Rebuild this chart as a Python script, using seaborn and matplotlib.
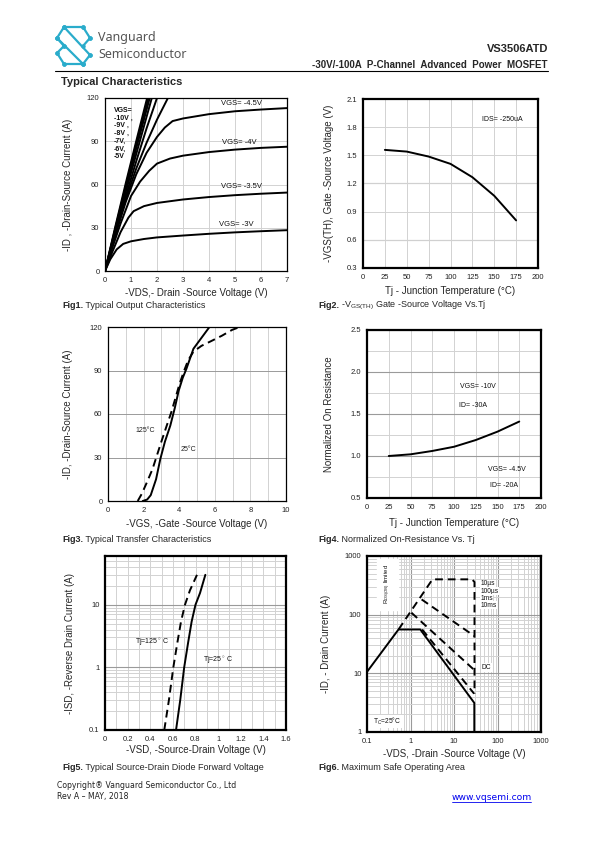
import numpy as np
import pandas as pd
import matplotlib
matplotlib.use('Agg')
import matplotlib.pyplot as plt
from matplotlib.lines import Line2D
from matplotlib.ticker import FixedLocator, NullFormatter, LogLocator
import seaborn as sns

# ---------------- data ----------------
# Fig1 output characteristics (-VDS V, -ID A)
vgs10_vds = [0, 0.4, 0.8, 1.2, 1.62]
vgs10_id = [0, 31, 61, 90, 120]
vgs9_vds = [0, 0.4, 0.8, 1.2, 1.67]
vgs9_id = [0, 30, 59, 88, 120]
vgs8_vds = [0, 0.4, 0.8, 1.2, 1.72]
vgs8_id = [0, 29, 57, 85, 120]
vgs7_vds = [0, 0.4, 0.8, 1.2, 1.8]
vgs7_id = [0, 28, 55, 81, 120]
vgs6_vds = [0, 0.4, 0.8, 1.2, 1.6, 2.0]
vgs6_id = [0, 27, 52, 76, 99, 120]
vgs5_vds = [0, 0.4, 0.8, 1.2, 1.6, 2.0, 2.42]
vgs5_id = [0, 26, 50, 71, 89, 105, 120]
vgs45_vds = [0, 0.4, 0.8, 1.2, 1.6, 2.0, 2.3, 2.6, 3, 4, 5, 6, 7]
vgs45_id = [0, 25, 48, 67, 82, 93, 99.5, 104, 105.8, 108.8, 110.8, 112, 113]
vgs4_vds = [0, 0.3, 0.6, 1.0, 1.35, 1.7, 2.0, 2.5, 3, 4, 5, 6, 7]
vgs4_id = [0, 17, 33, 52, 62, 69.5, 74.5, 78, 80, 82.5, 84.2, 85.4, 86.2]
vgs35_vds = [0, 0.3, 0.6, 0.9, 1.1, 1.5, 2, 3, 4, 5, 6, 7]
vgs35_id = [0, 14, 27, 37, 41.5, 45, 47.2, 49.6, 51.3, 52.6, 53.6, 54.4]
vgs3_vds = [0, 0.2, 0.45, 0.7, 1, 1.5, 2, 3, 4, 5, 6, 7]
vgs3_id = [0, 8, 15, 18.8, 20.6, 22.2, 23.3, 24.6, 25.8, 26.8, 27.6, 28.3]

# Fig2 threshold voltage vs Tj
vth_tj = [25, 50, 75, 100, 125, 150, 175]
vth_v = [1.558, 1.54, 1.487, 1.409, 1.267, 1.069, 0.807]

# Fig3 transfer characteristics (-VGS V, -ID A)
tr25_vgs = [1.95, 2.2, 2.4, 2.7, 2.94, 3.2, 3.5, 3.75, 3.97, 4.2, 4.4, 4.8, 5.28, 5.7]
tr25_id = [0, 1, 4, 15, 29, 41, 52, 64, 76, 85, 91, 105, 113, 120]
tr125_vgs = [1.67, 1.9, 2.19, 2.5, 2.75, 3.0, 3.3, 3.55, 3.78, 4.0, 4.25, 4.5, 4.8, 5.25, 5.75, 6.4, 6.97, 7.4]
tr125_id = [0, 5, 13, 22, 31.5, 41, 52, 61, 70.6, 80, 89, 97, 103, 107, 110, 114, 118, 120]

# Fig4 normalized on-resistance vs Tj
rds_tj = [25, 50, 75, 100, 125, 150, 175]
rds_norm = [1.0, 1.02, 1.06, 1.11, 1.19, 1.29, 1.41]

# Fig5 body diode forward voltage (-VSD V, -ISD A)
sd25_vsd = [0.628, 0.665, 0.70, 0.735, 0.766, 0.80, 0.84, 0.887]
sd25_isd = [0.1, 0.3, 1, 2.5, 5.4, 10, 15.4, 30]
sd125_vsd = [0.524, 0.565, 0.604, 0.64, 0.672, 0.707, 0.751, 0.813]
sd125_isd = [0.1, 0.3, 1, 2.5, 5.4, 10, 17, 30]

# Fig6 safe operating area (-VDS V, -ID A)
dc_vds = [0.1, 0.53, 1.68, 29.3, 29.3]
dc_id = [10.6, 55.9, 55.9, 3.13, 1]
us10_vds = [0.53, 3.2, 26, 29.6, 29.6]
us10_id = [55.9, 400, 400, 360, 4.5]
us100_vds = [1.8, 29.6]
us100_id = [182, 43]
ms1_vds = [1.05, 29.6]
ms1_id = [108, 11.3]
ms10_vds = [1.85, 29.0]
ms10_id = [56, 4.5]

# ---------------- style ----------------
sns.set_style("white")
plt.rcParams['font.family'] = ['Liberation Sans', 'DejaVu Sans']
plt.rcParams['mathtext.fontset'] = 'custom'
plt.rcParams['mathtext.rm'] = 'Liberation Sans'
plt.rcParams['mathtext.it'] = 'Liberation Sans:italic'
plt.rcParams['mathtext.bf'] = 'Liberation Sans:bold'

W, H = 595, 842
fig = plt.figure(figsize=(W / 100, H / 100), dpi=100)
fig.patch.set_facecolor('white')


def rect(x0, y0, x1, y1):
    return [x0 / W, 1 - y1 / H, (x1 - x0) / W, (y1 - y0) / H]


def fx(x):
    return x / W


def fy(y):
    return 1 - y / H


LIGHT = '#d2d2d2'
MID = '#9a9a9a'
TICK_FS = 5.5
LAB_FS = 7
ANN_FS = 5.5


def curve(ax, x, y, dashed=False):
    df = pd.DataFrame({'x': x, 'y': y})
    sns.lineplot(data=df, x='x', y='y', ax=ax, color='black', lw=1.4,
                 sort=False, estimator=None,
                 linestyle=(0, (4, 2.5)) if dashed else '-')


def frame(ax, lw):
    for s in ax.spines.values():
        s.set_visible(True)
        s.set_color('black')
        s.set_linewidth(lw)
    ax.tick_params(length=0, labelsize=TICK_FS, pad=4, colors='#222222')
    ax.set_axisbelow(True)


# ---------------- Fig1 ----------------
ax1 = fig.add_axes(rect(105, 98, 287, 271))
for xs, ys in [(vgs10_vds, vgs10_id), (vgs9_vds, vgs9_id), (vgs8_vds, vgs8_id),
               (vgs7_vds, vgs7_id), (vgs6_vds, vgs6_id), (vgs5_vds, vgs5_id),
               (vgs45_vds, vgs45_id), (vgs4_vds, vgs4_id), (vgs35_vds, vgs35_id),
               (vgs3_vds, vgs3_id)]:
    curve(ax1, xs, ys)
ax1.set_xlim(0, 7)
ax1.set_ylim(0, 120)
ax1.set_xticks(range(0, 8))
ax1.set_yticks([0, 30, 60, 90, 120])
ax1.grid(True, color=LIGHT, lw=0.7)
frame(ax1, 0.9)
ax1.set_xlabel('-VDS,- Drain -Source Voltage (V)', fontsize=LAB_FS, labelpad=3)
ax1.set_ylabel('-ID , -Drain-Source Current (A)', fontsize=LAB_FS, labelpad=10)
ax1.text(0.33, 114, 'VGS=\n-10V ,\n-9V ,\n-8V ,\n-7V,\n-6V,\n-5V', fontsize=ANN_FS - 0.5,
         va='top', ha='left', linespacing=1.15, fontweight='bold', color='#111111')
ax1.text(4.45, 116, 'VGS= -4.5V', fontsize=ANN_FS, va='center', color='#111111')
ax1.text(4.5, 89, 'VGS= -4V', fontsize=ANN_FS, va='center', color='#111111')
ax1.text(4.45, 58.5, 'VGS= -3.5V', fontsize=ANN_FS, va='center', color='#111111')
ax1.text(4.4, 32, 'VGS= -3V', fontsize=ANN_FS, va='center', color='#111111')

# ---------------- Fig2 ----------------
ax2 = fig.add_axes(rect(363, 99, 538, 268))
curve(ax2, vth_tj, vth_v)
ax2.set_xlim(0, 200)
ax2.set_ylim(0.3, 2.1)
ax2.set_xticks(range(0, 201, 25))
ax2.set_yticks([0.3, 0.6, 0.9, 1.2, 1.5, 1.8, 2.1])
ax2.set_yticklabels(['0.3', '0.6', '0.9', '1.2', '1.5', '1.8', '2.1'])
ax2.grid(True, color=LIGHT, lw=0.7)
for v in [0.6, 1.2]:
    ax2.axhline(v, color=MID, lw=0.8, zorder=0.5)
frame(ax2, 1.6)
ax2.set_xlabel('Tj - Junction Temperature (°C)', fontsize=LAB_FS, labelpad=4)
ax2.set_ylabel('-VGS(TH), Gate -Source Voltage (V)', fontsize=LAB_FS, labelpad=9)
ax2.text(136, 1.88, 'IDS= -250uA', fontsize=ANN_FS - 0.5, va='center', color='#111111')

# ---------------- Fig3 ----------------
ax3 = fig.add_axes(rect(108, 327, 286, 501))
curve(ax3, tr25_vgs, tr25_id)
curve(ax3, tr125_vgs, tr125_id, dashed=True)
ax3.set_xlim(0, 10)
ax3.set_ylim(0, 120)
ax3.set_xticks(range(0, 11, 2))
ax3.xaxis.set_minor_locator(FixedLocator(range(1, 10, 2)))
ax3.set_yticks([0, 30, 60, 90, 120])
ax3.grid(True, which='both', axis='x', color=LIGHT, lw=0.7)
ax3.grid(True, axis='y', color=MID, lw=0.7)
frame(ax3, 0.9)
ax3.tick_params(which='minor', length=0)
ax3.set_xlabel('-VGS, -Gate -Source Voltage (V)', fontsize=LAB_FS, labelpad=4)
ax3.set_ylabel('-ID, -Drain-Source Current (A)', fontsize=LAB_FS, labelpad=12)
ax3.text(1.52, 48.5, '125°C', fontsize=ANN_FS - 0.5, va='center', color='#222222')
ax3.text(4.1, 35.2, '25°C', fontsize=ANN_FS - 0.5, va='center', color='#222222')

# ---------------- Fig4 ----------------
ax4 = fig.add_axes(rect(367, 330, 541, 498))
curve(ax4, rds_tj, rds_norm)
ax4.set_xlim(0, 200)
ax4.set_ylim(0.5, 2.5)
ax4.set_xticks(range(0, 201, 25))
ax4.set_yticks([0.5, 1.0, 1.5, 2.0, 2.5])
ax4.set_yticklabels(['0.5', '1.0', '1.5', '2.0', '2.5'])
ax4.yaxis.set_minor_locator(FixedLocator([0.75, 1.25, 1.75, 2.25]))
ax4.grid(True, which='major', axis='x', color=LIGHT, lw=0.7)
ax4.grid(True, which='minor', axis='y', color=LIGHT, lw=0.7)
ax4.grid(True, which='major', axis='y', color=MID, lw=0.8)
frame(ax4, 1.6)
ax4.tick_params(which='minor', length=0)
ax4.set_xlabel('Tj - Junction Temperature (°C)', fontsize=LAB_FS, labelpad=5)
ax4.set_ylabel('Normalized On Resistance', fontsize=LAB_FS, labelpad=12)
ax4.text(107, 1.825, 'VGS= -10V', fontsize=ANN_FS - 0.5, va='center', color='#111111')
ax4.text(106, 1.607, 'ID= -30A', fontsize=ANN_FS - 0.5, va='center', color='#111111')
ax4.text(139, 0.845, 'VGS= -4.5V', fontsize=ANN_FS - 0.5, va='center', color='#111111')
ax4.text(141, 0.643, 'ID= -20A', fontsize=ANN_FS - 0.5, va='center', color='#111111')

# ---------------- Fig5 ----------------
ax5 = fig.add_axes(rect(105, 556, 286, 730))
ax5.set_yscale('log')
curve(ax5, sd25_vsd, sd25_isd)
curve(ax5, sd125_vsd, sd125_isd, dashed=True)
ax5.set_xlim(0, 1.6)
ax5.set_ylim(0.1, 60)
ax5.set_xticks(np.round(np.arange(0, 1.61, 0.2), 1))
ax5.set_xticklabels(['0', '0.2', '0.4', '0.6', '0.8', '1', '1.2', '1.4', '1.6'])
ax5.xaxis.set_minor_locator(FixedLocator(np.round(np.arange(0.1, 1.6, 0.2), 1)))
ax5.set_yticks([0.1, 1, 10])
ax5.set_yticklabels(['0.1', '1', '10'])
ax5.yaxis.set_minor_locator(LogLocator(base=10, subs=np.arange(2, 10)))
ax5.yaxis.set_minor_formatter(NullFormatter())
ax5.grid(True, which='both', axis='x', color=LIGHT, lw=0.7)
ax5.grid(True, which='minor', axis='y', color=LIGHT, lw=0.7)
ax5.grid(True, which='major', axis='y', color=MID, lw=0.8)
frame(ax5, 1.6)
ax5.tick_params(which='minor', length=0)
ax5.set_xlabel('-VSD, -Source-Drain Voltage (V)', fontsize=LAB_FS, labelpad=2)
ax5.set_ylabel('-ISD, -Reverse Drain Current (A)', fontsize=LAB_FS, labelpad=10)
ax5.text(0.265, 2.56, 'Tj=125$^\\circ$ C', fontsize=ANN_FS - 0.5, va='center', color='#111111')
ax5.text(0.87, 1.32, 'Tj=25$^\\circ$ C', fontsize=ANN_FS - 0.5, va='center', color='#111111')

# ---------------- Fig6 ----------------
ax6 = fig.add_axes(rect(367, 556, 541, 732))
ax6.set_xscale('log')
ax6.set_yscale('log')
curve(ax6, dc_vds, dc_id)
curve(ax6, us10_vds, us10_id, dashed=True)
curve(ax6, us100_vds, us100_id, dashed=True)
curve(ax6, ms1_vds, ms1_id, dashed=True)
curve(ax6, ms10_vds, ms10_id, dashed=True)
ax6.set_xlim(0.1, 1000)
ax6.set_ylim(1, 1000)
ax6.set_xticks([0.1, 1, 10, 100, 1000])
ax6.set_xticklabels(['0.1', '1', '10', '100', '1000'])
ax6.set_yticks([1, 10, 100, 1000])
ax6.set_yticklabels(['1', '10', '100', '1000'])
for a in (ax6.xaxis, ax6.yaxis):
    a.set_minor_locator(LogLocator(base=10, subs=np.arange(2, 10)))
    a.set_minor_formatter(NullFormatter())
ax6.grid(True, which='minor', color=LIGHT, lw=0.7)
ax6.grid(True, which='major', color=MID, lw=0.8)
frame(ax6, 1.6)
ax6.tick_params(which='minor', length=0)
ax6.set_xlabel('-VDS, -Drain -Source Voltage (V)', fontsize=LAB_FS, labelpad=3)
ax6.set_ylabel('-ID, - Drain Current (A)', fontsize=LAB_FS, labelpad=10)
ax6.text(0.3, 330, 'R$_{DS(ON)}$ limited', fontsize=4.3, rotation=90, ha='center', va='center',
         color='#111111', backgroundcolor='white')
for lab, yv in [('10µs', 340), ('100µs', 253), ('1ms', 190), ('10ms', 145)]:
    ax6.text(40, yv, lab, fontsize=ANN_FS - 0.7, va='center', color='#111111',
             bbox=dict(facecolor='white', edgecolor='none', pad=0.3))
ax6.text(44, 12.5, 'DC', fontsize=ANN_FS - 0.7, va='center', color='#111111',
         bbox=dict(facecolor='white', edgecolor='none', pad=0.5))
ax6.text(0.14, 1.5, 'T$_C$=25°C', fontsize=ANN_FS - 0.7, va='center', color='#111111',
         bbox=dict(facecolor='white', edgecolor='none', pad=0.5))

# ---------------- captions ----------------
captions = [
    (62, 305, 'Fig1.', ' Typical Output Characteristics'),
    (318, 305, 'Fig2.', ' -V$_{\\mathrm{GS(TH)}}$ Gate -Source Voltage Vs.Tj'),
    (62, 540, 'Fig3.', ' Typical Transfer Characteristics'),
    (318, 540, 'Fig4.', ' Normalized On-Resistance Vs. Tj'),
    (62, 767, 'Fig5.', ' Typical Source-Drain Diode Forward Voltage'),
    (318, 767, 'Fig6.', ' Maximum Safe Operating Area'),
]
for x, y, b, rest in captions:
    t = fig.text(fx(x), fy(y), b, fontsize=6.5, fontweight='bold', va='center', ha='left')
    ax1.annotate(rest, xy=(1, 0.5), xycoords=t, va='center', ha='left', fontsize=6.5,
                 annotation_clip=False)

# ---------------- header ----------------
cyan = '#2aaccb'
logo_segs = [
    [(64, 27), (83, 27)], [(64, 27), (57, 38)], [(83, 27), (90, 38)],
    [(57, 38), (64, 46)], [(64, 27), (90, 55)], [(57, 38), (83, 64)],
    [(90, 55), (83, 64)], [(64, 64), (83, 64)], [(57, 53), (64, 64)],
    [(57, 53), (64, 46)], [(90, 38), (83, 46)],
]
for seg in logo_segs:
    xs = [fx(p[0]) for p in seg]
    ys = [fy(p[1]) for p in seg]
    fig.add_artist(Line2D(xs, ys, color=cyan, lw=1.6, transform=fig.transFigure,
                          marker='o', markersize=2.2, solid_capstyle='round'))
fig.text(fx(98), fy(38), 'Vanguard', fontsize=9, color='#555555', va='center',
         family='Noto Sans')
fig.text(fx(98), fy(55), 'Semiconductor', fontsize=9, color='#555555', va='center',
         family='Noto Sans')
fig.text(fx(548), fy(49), 'VS3506ATD', fontsize=8, fontweight='bold', ha='right', va='center')
fig.text(fx(548), fy(65), '-30V/-100A  P-Channel  Advanced  Power  MOSFET', fontsize=7,
         fontweight='bold', ha='right', va='center')
fig.add_artist(Line2D([fx(55), fx(548)], [fy(70.5), fy(70.5)], color='black', lw=0.8,
                      transform=fig.transFigure))
fig.text(fx(61), fy(82), 'Typical Characteristics', fontsize=8, fontweight='bold',
         va='center')

# ---------------- footer ----------------
fig.text(fx(57), fy(786), 'Copyright® Vanguard Semiconductor Co., Ltd', fontsize=5.6,
         family='DejaVu Sans', va='center', color='#222222')
fig.text(fx(57), fy(797), 'Rev A – MAY, 2018', fontsize=5.6, family='DejaVu Sans',
         va='center', color='#222222')
fig.text(fx(452), fy(797), 'www.vqsemi.com', fontsize=6.6, family='DejaVu Sans',
         va='center', ha='left', color='#0000ee')
fig.add_artist(Line2D([fx(452), fx(531)], [fy(801.5), fy(801.5)], color='#0000ee', lw=0.6,
                      transform=fig.transFigure))

fig.savefig('out.png', dpi=100, facecolor='white')
